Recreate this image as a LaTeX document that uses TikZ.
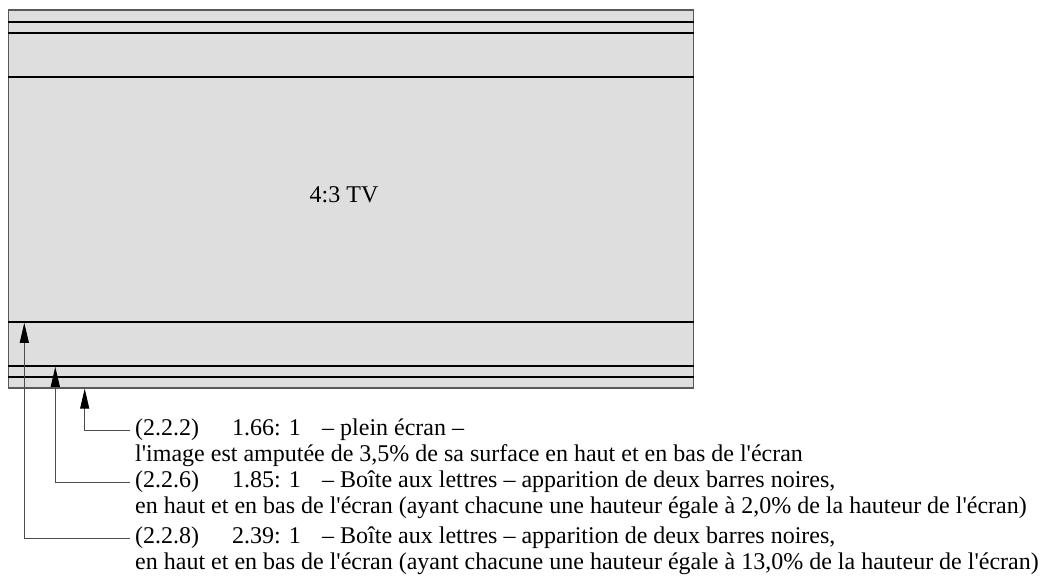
\documentclass[tikz,border=0pt]{standalone}
\usepackage{fontspec}
\setmainfont{Liberation Serif}[Ligatures=TeXOff]
\usetikzlibrary{positioning, arrows.meta}
\tikzset{
  screen/.style  = {draw=black!65, line width=1.2pt, fill=black!13, minimum width=685pt, minimum height=378pt, inner sep=0pt},
  bar/.style     = {line width=1.8pt},
  tvlabel/.style = {inner sep=0pt, font=\fontsize{24}{26}\selectfont},
  note/.style    = {anchor=west, inner xsep=5pt, inner ysep=0pt, text height=16pt, text depth=5pt, font=\fontsize{24}{26}\selectfont},
  pointer/.style = {draw=black!70, line width=1pt, -{Triangle[length=20pt, width=9pt, black]}}
}
\newcommand\tabrow[3]{\makebox[97pt][l]{#1}\makebox[90pt][l]{#2}#3}

\begin{document}
\begin{tikzpicture}[x=1pt, y=-1pt]
  \useasboundingbox (0,0) rectangle (1049,579);

  % the screen and its crop lines
  \node[screen] (tv) at (351.2,199) {};
  \foreach \y in {22,33,77,322,366,377}
    \draw[bar] (tv.west |- 0,\y) -- (tv.east |- 0,\y);
  \node[tvlabel] (tvname) at (344,195) {4:3 TV};

  \coordinate (hit239) at (24.3,322.8);
  \coordinate (hit185) at (55.3,366.8);
  \coordinate (hit166) at (84.7,388.6);

  % notes
  \node[note] (r166) at (130,430) {\tabrow{(2.2.2)}{1.66: 1}{– plein écran –}};
  \node[note, below=26pt of r166.west, anchor=west] (r166b) {l'image est amputée de 3,5\% de sa surface en haut et en bas de l'écran};
  \node[note, below=26pt of r166b.west, anchor=west] (r185) {\tabrow{(2.2.6)}{1.85: 1}{– Boîte aux lettres – apparition de deux barres noires,}};
  \node[note, below=26pt of r185.west, anchor=west] (r185b) {en haut et en bas de l'écran (ayant chacune une hauteur égale à 2,0\% de la hauteur de l'écran)};
  \node[note, below=30pt of r185b.west, anchor=west] (r239) {\tabrow{(2.2.8)}{2.39: 1}{– Boîte aux lettres – apparition de deux barres noires,}};
  \node[note, below=26pt of r239.west, anchor=west] (r239b) {en haut et en bas de l'écran (ayant chacune une hauteur égale à 13,0\% de la hauteur de l'écran)};

  \draw[pointer] (r166.west) -| (hit166);
  \draw[pointer] (r185.west) -| (hit185);
  \draw[pointer] (r239.west) -| (hit239);
\end{tikzpicture}
\end{document}
